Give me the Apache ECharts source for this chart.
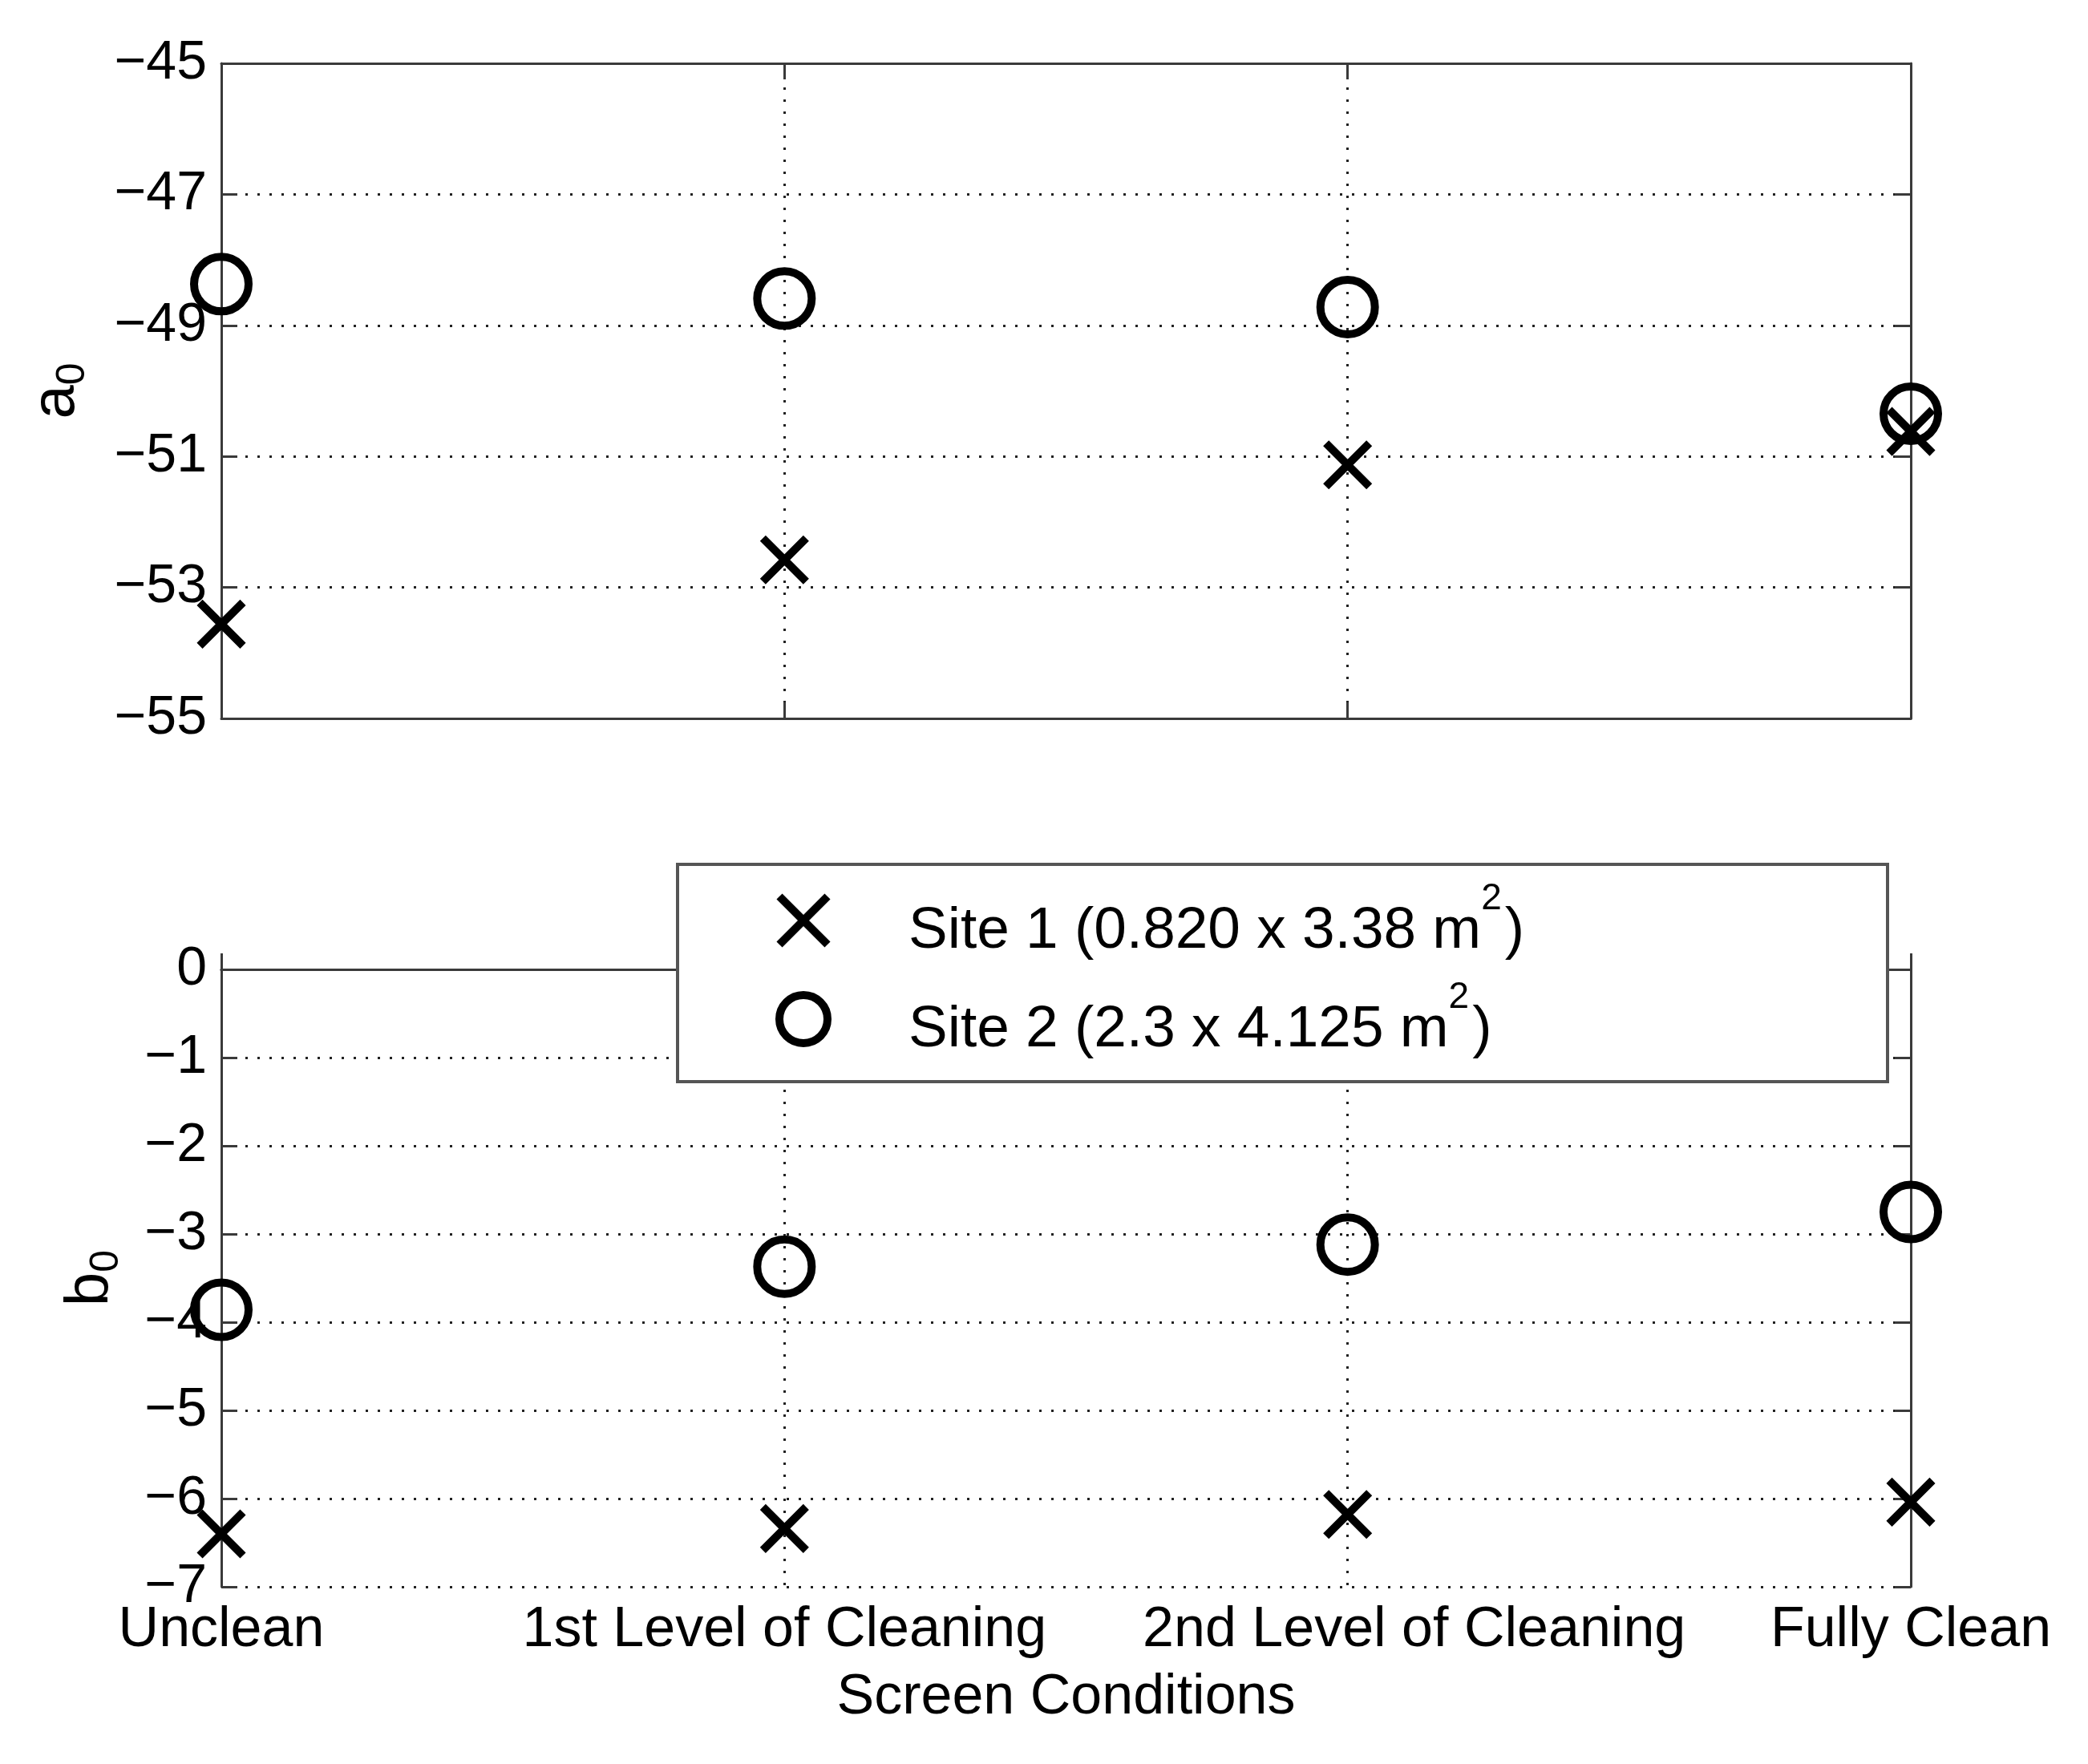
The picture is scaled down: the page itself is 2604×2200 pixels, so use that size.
<!DOCTYPE html>
<html>
<head>
<meta charset="utf-8">
<script src="https://cdn.jsdelivr.net/npm/echarts@6/dist/echarts.min.js"></script>
<style>
html,body{margin:0;padding:0;background:#fff;}
#chart{width:2604px;height:2200px;}
</style>
</head>
<body>
<div id="chart"></div>
<script>
const categories = ['Unclean', '1st Level of Cleaning', '2nd Level of Cleaning', 'Fully Clean'];
const a0Site1 = [-53.56, -52.58, -51.13, -50.62];
const a0Site2 = [-48.37, -48.59, -48.72, -50.35];
const b0Site1 = [-6.40, -6.34, -6.18, -6.04];
const b0Site2 = [-3.86, -3.37, -3.12, -2.75];
const a0Range = [-55, -45];
const a0Interval = 2;
const b0Range = [-7, 0];
const b0Interval = 1;
const seriesNames = ['Site 1', 'Site 2'];
const legendMain = ['Site 1 (0.820 x 3.38 m', 'Site 2 (2.3 x 4.125 m'];
const xTitle = 'Screen Conditions';

const FONT = 'Liberation Sans, Arial, sans-serif';
const AX = '#3a3a3a';
const crossPath = 'path://M0,0L10,10M10,0L0,10';

const dotted = { color: '#222', width: 3, type: [3, 12] };
const minusFmt = v => String(v).replace('-', '\u2212');

// bottom category labels (the third one sits slightly right of its tick in the original)
const bottomCatData = categories.map((c, i) => i === 2 ? { value: c, textStyle: { padding: [0, 0, 0, 166] } } : c);

function catAxis(gridIndex, pos, showLabel, extra) {
  return Object.assign({
    gridIndex, type: 'category', data: categories, boundaryGap: false, position: pos,
    axisLine: { show: true, lineStyle: { color: AX, width: 3 } },
    axisTick: { show: true, inside: true, length: 20, interval: 0, lineStyle: { color: AX, width: 3 } },
    axisLabel: { show: showLabel, interval: 0, fontFamily: FONT, fontSize: 70, color: '#000', margin: 20 },
    splitLine: { show: pos === 'bottom', interval: 0, lineStyle: dotted }
  }, extra || {});
}
function valAxis(gridIndex, pos, range, interval, showLabel, extra) {
  return Object.assign({
    gridIndex, type: 'value', position: pos, min: range[0], max: range[1], interval,
    axisLine: { show: true, lineStyle: { color: AX, width: 3 } },
    axisTick: { show: true, inside: true, length: 20, lineStyle: { color: AX, width: 3 } },
    axisLabel: { show: showLabel, fontFamily: FONT, fontSize: 68, color: '#000', margin: 18, formatter: minusFmt },
    splitLine: { show: pos === 'left', lineStyle: dotted }
  }, extra || {});
}

const crossStyle = { color: 'transparent', borderColor: '#000', borderWidth: 10, opacity: 1 };
const circleStyle = { color: 'transparent', borderColor: '#000', borderWidth: 10, opacity: 1 };

const nameRich = {
  m: { fontFamily: FONT, fontSize: 76, lineHeight: 90, verticalAlign: 'middle', color: '#000' },
  s: { fontFamily: FONT, fontSize: 50, lineHeight: 50, verticalAlign: 'bottom', color: '#000' }
};

const option = {
  backgroundColor: '#fff',
  animation: false,
  grid: [
    { left: 276, top: 79, width: 2107, height: 817 },
    { left: 276, top: 1209, width: 2107, height: 770 }
  ],
  xAxis: [
    catAxis(0, 'bottom', false),
    catAxis(0, 'top', false),
    catAxis(1, 'bottom', true, {
      data: bottomCatData,
      name: xTitle, nameLocation: 'middle', nameGap: 104,
      nameTextStyle: { fontFamily: FONT, fontSize: 70, color: '#000' }
    }),
    catAxis(1, 'top', false)
  ],
  yAxis: [
    valAxis(0, 'left', a0Range, a0Interval, true, {
      name: '{m|a}{s|0}', nameLocation: 'middle', nameRotate: 90, nameGap: 160,
      nameTextStyle: { fontFamily: FONT, color: '#000', rich: nameRich }
    }),
    valAxis(0, 'right', a0Range, a0Interval, false),
    valAxis(1, 'left', b0Range, b0Interval, true, {
      name: '{m|b}{s|0}', nameLocation: 'middle', nameRotate: 90, nameGap: 118,
      nameTextStyle: { fontFamily: FONT, color: '#000', rich: nameRich }
    }),
    valAxis(1, 'right', b0Range, b0Interval, false)
  ],
  legend: {
    orient: 'vertical', left: 962, top: 1093, itemWidth: 60, itemHeight: 60, itemGap: 23,
    z: 10,
    data: [
      { name: seriesNames[0], icon: crossPath, itemStyle: crossStyle },
      { name: seriesNames[1], icon: 'circle', itemStyle: circleStyle }
    ],
    formatter: name => {
      const i = seriesNames.indexOf(name);
      return '{gap|}{t|' + legendMain[i] + '}{s|2}{t|)}';
    },
    textStyle: {
      fontFamily: FONT, color: '#000',
      rich: {
        gap: { width: 96 },
        t: { fontFamily: FONT, fontSize: 73, lineHeight: 80, verticalAlign: 'bottom', color: '#000' },
        s: { fontFamily: FONT, fontSize: 46, lineHeight: 100, verticalAlign: 'top', padding: [0, 4, 0, 0], color: '#000' }
      }
    }
  },
  graphic: [
    { type: 'rect', left: 843, top: 1076, z: 8,
      shape: { width: 1509, height: 271 },
      style: { fill: '#fff', stroke: '#555', lineWidth: 4 } }
  ],
  series: [
    { name: seriesNames[0], type: 'scatter', xAxisIndex: 0, yAxisIndex: 0, data: a0Site1,
      symbol: crossPath, symbolSize: 54, itemStyle: crossStyle, z: 3 },
    { name: seriesNames[1], type: 'scatter', xAxisIndex: 0, yAxisIndex: 0, data: a0Site2,
      symbol: 'circle', symbolSize: 68, itemStyle: circleStyle, z: 3 },
    { name: seriesNames[0], type: 'scatter', xAxisIndex: 2, yAxisIndex: 2, data: b0Site1,
      symbol: crossPath, symbolSize: 54, itemStyle: crossStyle, z: 3 },
    { name: seriesNames[1], type: 'scatter', xAxisIndex: 2, yAxisIndex: 2, data: b0Site2,
      symbol: 'circle', symbolSize: 68, itemStyle: circleStyle, z: 3 }
  ]
};

const chart = echarts.init(document.getElementById('chart'), null, { renderer: 'canvas' });
chart.setOption(option);
</script>
</body>
</html>
